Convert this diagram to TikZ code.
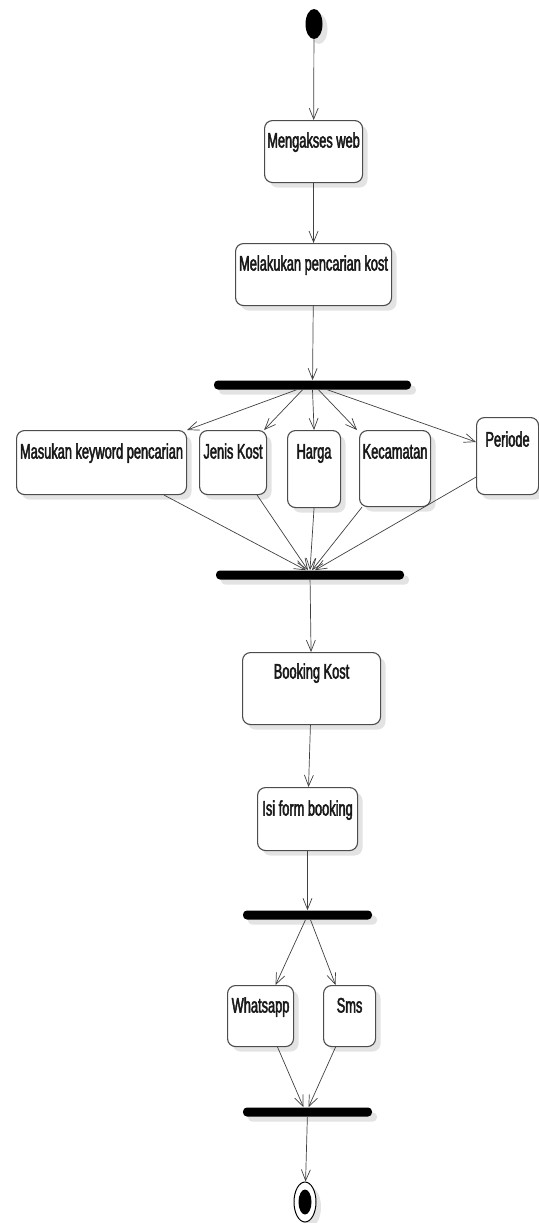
\documentclass[tikz,border=0pt]{standalone}
\usepackage{fontspec}
\setmainfont{Liberation Sans}[FakeStretch=0.61,FakeBold=2.2]
\usetikzlibrary{arrows.meta,shadows,shapes.geometric}
\tikzset{
	bayang/.style={drop shadow={shadow xshift=5pt,shadow yshift=-5pt,fill=black!11,opacity=1}},
	aksi/.style={draw=black!70,line width=1.1pt,rounded corners=8pt,fill=white,inner sep=0pt,anchor=north west,text=black!90,font=\fontsize{21}{23}\selectfont,bayang},
	palang/.style={fill=black,rounded corners=4pt,minimum height=9pt,inner sep=0pt,bayang},
	alur/.style={->,draw=black!75,line width=0.7pt}
}
\begin{document}
\begin{tikzpicture}[>={Straight Barb[length=11pt,width=9pt]},x=1pt,y=-1pt,line width=0.6pt]
		\useasboundingbox (0,0) rectangle (538,1223);
		\node[ellipse,fill=black,minimum width=17pt,minimum height=30pt,inner sep=0pt,bayang] (mulai) at (314,24) {};
		\node[aksi,minimum width=98pt,text height=27pt,text depth=35pt] (web) at (264,120) {Mengakses web};
		\node[aksi,minimum width=156pt,text height=27pt,text depth=35pt] (cari) at (235,243) {Melakukan pencarian kost};
		\node[palang,minimum width=197pt] (garpuA) at (312.5,385) {};
		\node[aksi,minimum width=170pt,text height=28pt,text depth=36pt] (keyword) at (16,430) {Masukan keyword pencarian};
		\node[aksi,minimum width=67pt,text height=28pt,text depth=36pt] (jenis) at (199,430) {Jenis Kost};
		\node[aksi,minimum width=53pt,text height=28pt,text depth=49pt] (harga) at (287,430) {Harga};
		\node[aksi,minimum width=71pt,text height=28pt,text depth=48pt] (kecamatan) at (359,430) {Kecamatan};
		\node[aksi,minimum width=62pt,text height=29pt,text depth=48pt] (periode) at (476,417) {Periode};
		\node[palang,minimum width=188pt] (garpuB) at (310,575) {};
		\node[aksi,minimum width=138pt,text height=26pt,text depth=46pt] (booking) at (242,652) {Booking Kost};
		\node[aksi,minimum width=100pt,text height=28pt,text depth=35pt] (isi) at (257,787) {Isi form booking};
		\node[palang,minimum width=129pt] (garpuC) at (307.5,915) {};
		\node[aksi,minimum width=66pt,text height=27pt,text depth=34pt] (whatsapp) at (227,985) {Whatsapp};
		\node[aksi,minimum width=52pt,text height=27pt,text depth=34pt] (sms) at (323,985) {Sms};
		\node[palang,minimum width=129pt] (garpuD) at (307.5,1112) {};
		\node[ellipse,draw=black,fill=white,line width=1pt,minimum width=22pt,minimum height=40pt,inner sep=0pt,bayang] (selesai) at (305,1202) {};
		\node[ellipse,fill=black,minimum width=13pt,minimum height=25pt,inner sep=0pt] (titik) at (selesai) {};
		\draw[alur] (mulai) -- (web);
		\draw[alur] (web) -- (cari);
		\draw[alur] (cari) -- (garpuA);
		\draw[alur] ([xshift=-16pt]garpuA.south) -- (keyword.north east);
		\draw[alur] ([xshift=-10pt]garpuA.south) -- ([xshift=-3pt]jenis.north east);
		\draw[alur] (garpuA.south) -- (harga.north);
		\draw[alur] ([xshift=6pt]garpuA.south) -- ([xshift=-2pt]kecamatan.north west);
		\draw[alur] ([xshift=15pt]garpuA.south) -- ([yshift=-25pt]periode.north west);
		\draw[alur] ([xshift=-23pt]keyword.south east) -- ([xshift=-4pt]garpuB.north);
		\draw[alur] ([xshift=-10pt]jenis.south east) -- ([xshift=-2pt]garpuB.north);
		\draw[alur] (harga.south) -- (garpuB.north);
		\draw[alur] ([xshift=3pt]kecamatan.south west) -- ([xshift=2pt]garpuB.north);
		\draw[alur] ([yshift=18pt]periode.south west) -- ([xshift=5pt]garpuB.north);
		\draw[alur] (garpuB) -- (booking);
		\draw[alur] (booking) -- (isi);
		\draw[alur] (isi) -- (garpuC);
		\draw[alur] ([xshift=-2pt]garpuC.south) -- ([xshift=15pt]whatsapp.north);
		\draw[alur] ([xshift=3pt]garpuC.south) -- ([xshift=-14pt]sms.north);
		\draw[alur] ([xshift=17pt]whatsapp.south) -- ([xshift=-4pt]garpuD.north);
		\draw[alur] ([xshift=-14pt]sms.south) -- ([xshift=1pt]garpuD.north);
		\draw[alur] (garpuD) -- (selesai);
\end{tikzpicture}
\end{document}
